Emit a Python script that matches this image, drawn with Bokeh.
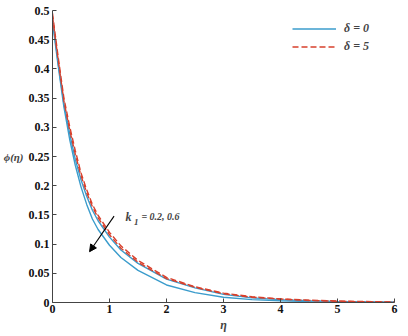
from bokeh.plotting import figure
from bokeh.models import (Range1d, FixedTicker, Legend, LegendItem, Label, Arrow,
                          NormalHead)
from bokeh.embed import file_html
from bokeh.resources import INLINE

eta = [0, 0.1, 0.2, 0.3, 0.4, 0.5, 0.6, 0.7, 0.8, 1.0, 1.2, 1.5, 2.0, 2.5, 3.0, 3.5, 4.0, 4.5, 5.0, 6.0]
# delta = 0
phi_d0_k02 = [0.485, 0.41, 0.34, 0.29, 0.245, 0.21, 0.182, 0.158, 0.14, 0.112, 0.09, 0.067, 0.04, 0.025, 0.014, 0.008, 0.005, 0.003, 0.002, 0.0005]
phi_d0_k06 = [0.48, 0.405, 0.335, 0.28, 0.235, 0.198, 0.168, 0.143, 0.125, 0.098, 0.077, 0.055, 0.03, 0.017, 0.009, 0.005, 0.003, 0.0015, 0.001, 0.0003]
# delta = 5
phi_d5_k02 = [0.495, 0.42, 0.35, 0.302, 0.26, 0.222, 0.193, 0.168, 0.149, 0.12, 0.097, 0.072, 0.043, 0.027, 0.016, 0.010, 0.006, 0.004, 0.0025, 0.0008]
phi_d5_k06 = [0.49, 0.415, 0.345, 0.296, 0.254, 0.217, 0.188, 0.164, 0.145, 0.116, 0.093, 0.069, 0.041, 0.026, 0.015, 0.009, 0.006, 0.0035, 0.002, 0.0006]

x_ticks = [0, 1, 2, 3, 4, 5, 6]
y_ticks = [0, 0.05, 0.1, 0.15, 0.2, 0.25, 0.3, 0.35, 0.4, 0.45, 0.5]
y_tick_labels = ["0", "0.05", "0.1", "0.15", "0.2", "0.25", "0.3", "0.35", "0.4", "0.45", "0.5"]

legend_labels = ["δ = 0", "δ = 5"]
annot_text = "= 0.2, 0.6"

BLUE = "#3b9ccc"
RED = "#d8402c"
SERIF = "Liberation Serif"

p = figure(width=408, height=336, output_backend="svg", toolbar_location=None,
           x_range=Range1d(0, 6), y_range=Range1d(0, 0.5),
           min_border_left=0, min_border_right=14, min_border_top=10, min_border_bottom=34)
p.outline_line_color = None
p.xgrid.visible = False
p.ygrid.visible = False

for ax in (p.xaxis[0], p.yaxis[0]):
    ax.axis_line_color = "#444444"
    ax.major_tick_line_color = "#444444"
    ax.major_tick_in = 4
    ax.major_tick_out = 0
    ax.minor_tick_line_color = None
    ax.major_label_text_font = SERIF
    ax.major_label_text_font_style = "bold"
    ax.major_label_text_font_size = "12px"
    ax.major_label_text_color = "#111111"

p.xaxis.ticker = FixedTicker(ticks=x_ticks)
p.yaxis.ticker = FixedTicker(ticks=y_ticks)
p.yaxis.major_label_overrides = {t: l for t, l in zip(y_ticks, y_tick_labels)}
p.xaxis.major_label_standoff = 2
p.yaxis.major_label_standoff = 3
p.xaxis.axis_label = "η"
p.xaxis.axis_label_text_font = SERIF
p.xaxis.axis_label_text_font_style = "bold italic"
p.xaxis.axis_label_text_font_size = "12px"
p.xaxis.axis_label_standoff = 2

p.yaxis.axis_label = "ϕ(η)"
p.yaxis.axis_label_orientation = "horizontal"
p.yaxis.axis_label_text_font = SERIF
p.yaxis.axis_label_text_font_style = "bold italic"
p.yaxis.axis_label_text_font_size = "11px"
p.yaxis.axis_label_standoff = 2

r1 = p.line(eta, phi_d0_k02, line_color=BLUE, line_width=1.4)
r2 = p.line(eta, phi_d0_k06, line_color=BLUE, line_width=1.4)
r3 = p.line(eta, phi_d5_k02, line_color=RED, line_width=1.4, line_dash="6 3")
r4 = p.line(eta, phi_d5_k06, line_color=RED, line_width=1.4, line_dash="6 3")

legend = Legend(items=[LegendItem(label=legend_labels[0], renderers=[r1]),
                       LegendItem(label=legend_labels[1], renderers=[r3])],
                location=(240, 248), padding=0, margin=0, spacing=3,
                glyph_width=44, glyph_height=13, label_height=13, label_standoff=8,
                border_line_color=None, background_fill_alpha=0,
                label_text_font=SERIF, label_text_font_style="bold italic",
                label_text_font_size="12px")
p.add_layout(legend)

# annotation k1
p.add_layout(Label(x=1.28, y=0.147, text="k", text_font=SERIF, text_font_style="bold italic",
                   text_font_size="12px", text_align="left", text_baseline="middle"))
p.add_layout(Label(x=1.43, y=0.137, text="1", text_font=SERIF, text_font_style="bold italic",
                   text_font_size="9px", text_align="left", text_baseline="middle"))
p.add_layout(Label(x=1.56, y=0.147, text=annot_text, text_font=SERIF, text_font_style="bold italic",
                   text_font_size="10px", text_align="left", text_baseline="middle"))
p.add_layout(Arrow(x_start=1.08, y_start=0.148, x_end=0.65, y_end=0.087,
                   line_color="black", line_width=1.1,
                   end=NormalHead(size=7, fill_color="black", line_color="black")))

open("out.html", "w").write(file_html(p, INLINE))
